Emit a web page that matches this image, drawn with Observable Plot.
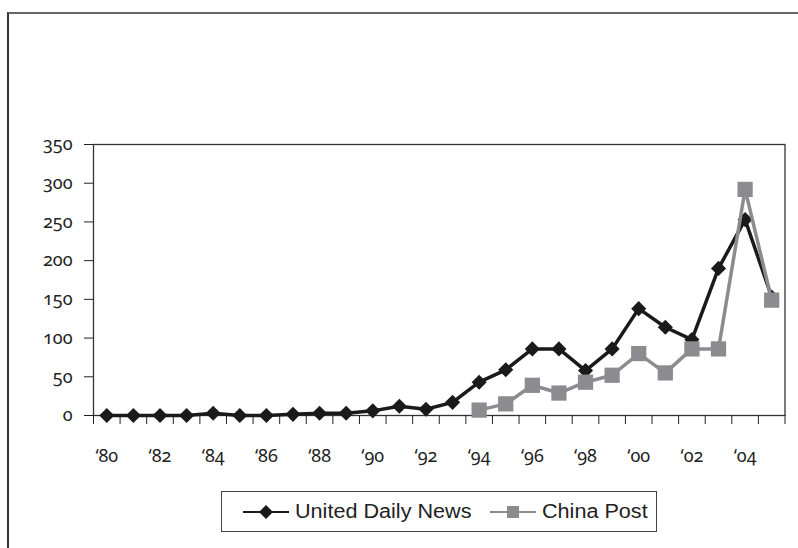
<!DOCTYPE html>
<html>
<head>
<meta charset="utf-8">
<script src="https://cdn.jsdelivr.net/npm/d3@7"></script>
<script src="https://cdn.jsdelivr.net/npm/@observablehq/plot@0.6"></script>
<style>
  html, body { margin: 0; padding: 0; background: #fff; }
  #wrap { position: relative; width: 798px; height: 548px; overflow: hidden; }
  #frame { position: absolute; left: 7px; top: 12px; width: 791px; height: 540px;
           border-left: 2px solid #333; border-top: 2px solid #666; box-sizing: border-box; }
  #chart { position: absolute; left: 0; top: 0; }
  #legend { position: absolute; left: 221px; top: 491px; width: 436px; height: 41px;
            border: 1px solid #444; box-sizing: border-box;
            font-family: "Liberation Sans", Arial, sans-serif; font-size: 20px; color: #222; }
  #legend .item { position: absolute; top: 0; height: 39px; display: flex; align-items: center; }
  #legend svg { display: block; }
  #legend span { display: inline-block; transform-origin: left center; transform: scaleX(1.08); white-space: nowrap; }
  #chart svg text { font-family: "Noto Sans", "Open Sans", sans-serif; font-variant-numeric: oldstyle-nums; font-feature-settings: "onum" 1; }
</style>
</head>
<body>
<div id="wrap">
  <div id="frame"></div>
  <div id="chart"></div>
  <div id="legend"></div>
</div>
<script>
// ---- data ----
const years = [1980,1981,1982,1983,1984,1985,1986,1987,1988,1989,1990,1991,1992,
               1993,1994,1995,1996,1997,1998,1999,2000,2001,2002,2003,2004,2005];
const udnValues = [0,0,0,0,3,0,0,1.5,3,3,6,12,8,17,43,59,86,86,58,86,138,114,98,190,253,153];
const cpYears = [1994,1995,1996,1997,1998,1999,2000,2001,2002,2003,2004,2005];
const cpValues = [7,15,39,29,43,52,80,55,86,86,292,149];
const yTicks = [0,50,100,150,200,250,300,350];
const xLabelYears = [1980,1982,1984,1986,1988,1990,1992,1994,1996,1998,2000,2002,2004];
const seriesNames = ["United Daily News", "China Post"];
const udnColor = "#1a1a1a";
const cpColor = "#8c8c90";

const udn = years.map((year, i) => ({year, value: udnValues[i]}));
const cp = cpYears.map((year, i) => ({year, value: cpValues[i]}));
const boundaries = years.map(y => y - 0.5).concat([years[years.length - 1] + 0.5]);

const chart = Plot.plot({
  width: 798,
  height: 480,
  marginLeft: 93,
  marginRight: 13.5,
  marginTop: 144,
  marginBottom: 65,
  x: {domain: [boundaries[0], boundaries[boundaries.length - 1]], label: null},
  y: {domain: [0, 350], label: null},
  style: {fontFamily: "'Noto Sans', 'Open Sans', sans-serif", fontSize: "18px", color: "#222", background: "transparent"},
  marks: [
    Plot.frame({stroke: "#333", strokeWidth: 1.3}),
    Plot.axisY({ticks: yTicks, tickSize: 9, tickPadding: 12, tickFormat: d => String(d), label: null, fontSize: 18, fontVariant: "oldstyle-nums"}),
    Plot.axisX({ticks: boundaries, tickSize: 9, tickFormat: () => "", label: null}),
    Plot.axisX({ticks: xLabelYears, tickSize: 0, tickPadding: 34, tickFormat: d => "\u2018" + String(d).slice(2), label: null, fontSize: 18, fontVariant: "oldstyle-nums"}),
    Plot.line(udn, {x: "year", y: "value", stroke: udnColor, strokeWidth: 3.5}),
    Plot.dot(udn, {x: "year", y: "value", symbol: "diamond2", r: 6.8, fill: udnColor}),
    Plot.line(cp, {x: "year", y: "value", stroke: cpColor, strokeWidth: 3.5}),
    Plot.dot(cp, {x: "year", y: "value", symbol: "square", r: 8.6, fill: cpColor})
  ]
});
document.getElementById("chart").appendChild(chart);

// legend
const legend = document.getElementById("legend");
const items = [
  {name: seriesNames[0], color: udnColor, shape: "diamond", left: 20},
  {name: seriesNames[1], color: cpColor, shape: "square", left: 267}
];
items.forEach(it => {
  const div = document.createElement("div");
  div.className = "item";
  div.style.left = it.left + "px";
  const ns = "http://www.w3.org/2000/svg";
  const s = document.createElementNS(ns, "svg");
  s.setAttribute("width", 48); s.setAttribute("height", 20);
  const ln = document.createElementNS(ns, "line");
  ln.setAttribute("x1", 1); ln.setAttribute("x2", 47); ln.setAttribute("y1", 10); ln.setAttribute("y2", 10);
  ln.setAttribute("stroke", it.color); ln.setAttribute("stroke-width", 2);
  s.appendChild(ln);
  if (it.shape === "diamond") {
    const p = document.createElementNS(ns, "path");
    p.setAttribute("d", "M24,3L31,10L24,17L17,10Z");
    p.setAttribute("fill", it.color);
    s.appendChild(p);
  } else {
    const r = document.createElementNS(ns, "rect");
    r.setAttribute("x", 18); r.setAttribute("y", 4); r.setAttribute("width", 12); r.setAttribute("height", 12);
    r.setAttribute("fill", it.color);
    s.appendChild(r);
  }
  div.appendChild(s);
  const t = document.createElement("span");
  t.textContent = it.name;
  t.style.marginLeft = "5px";
  div.appendChild(t);
  legend.appendChild(div);
});
</script>
</body>
</html>
